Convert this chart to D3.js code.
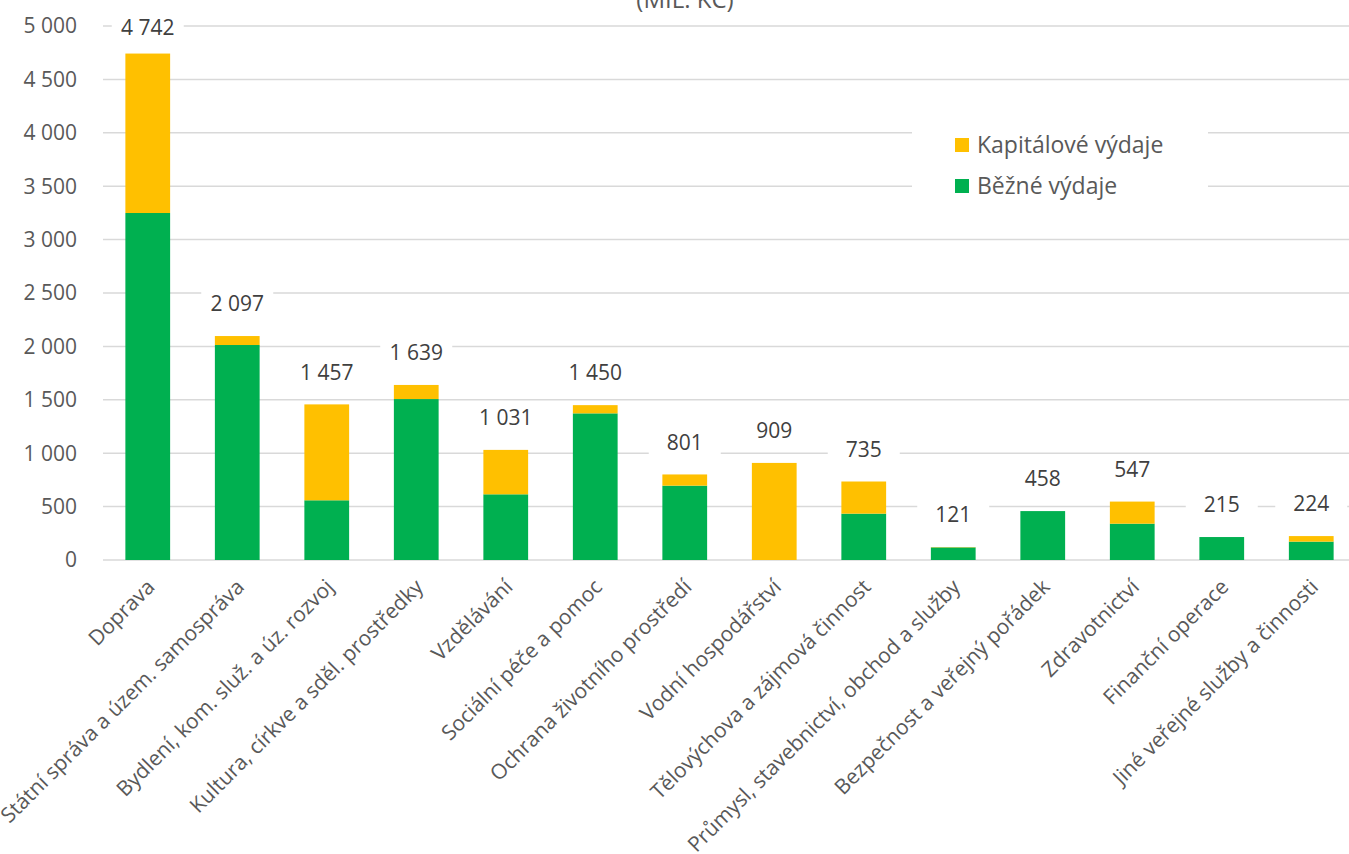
<!DOCTYPE html>
<html>
<head>
<meta charset="utf-8">
<script src="https://cdn.jsdelivr.net/npm/d3@7"></script>
<style>
  html, body { margin: 0; padding: 0; background: #fff; }
  svg { display: block; font-family: "Open Sans", "Noto Sans", sans-serif; }
</style>
</head>
<body>
<svg id="chart" width="1349" height="854"></svg>
<script>
// Výdaje podle odvětví (mil. Kč)
const categories = [
  "Doprava",
  "Státní správa a územ. samospráva",
  "Bydlení, kom. služ. a úz. rozvoj",
  "Kultura, církve a sděl. prostředky",
  "Vzdělávání",
  "Sociální péče a pomoc",
  "Ochrana životního prostředí",
  "Vodní hospodářství",
  "Tělovýchova a zájmová činnost",
  "Průmysl, stavebnictví, obchod a služby",
  "Bezpečnost a veřejný pořádek",
  "Zdravotnictví",
  "Finanční operace",
  "Jiné veřejné služby a činnosti"
];
const bezne      = [3249, 2013, 559, 1507, 615, 1373, 696, 0, 434, 118, 458, 340, 215, 172];
const kapitalove = [1493, 84, 898, 132, 416, 77, 105, 909, 301, 3, 0, 207, 0, 52];
const totals     = [4742, 2097, 1457, 1639, 1031, 1450, 801, 909, 735, 121, 458, 547, 215, 224];
const yTicks = [0, 500, 1000, 1500, 2000, 2500, 3000, 3500, 4000, 4500, 5000];
const seriesNames = ["Kapitálové výdaje", "Běžné výdaje"];

const COL_GREEN = "#00B050", COL_YELLOW = "#FFC000";
const INK = "#404040", MUTED = "#595959", GRID = "#d9d9d9";

const svg = d3.select("#chart");
const margin = { left: 103, right: -7, top: 26, bottom: 294 };
const W = 1349, H = 854;
const innerW = W - margin.left - margin.right;
const innerH = H - margin.top - margin.bottom;

// Czech style: space as thousands separator
const fmt = v => d3.format(",")(v).replace(/,/g, " ");

const x = d3.scaleBand().domain(categories).range([0, innerW]).paddingInner(0.5).paddingOuter(0.25);
const y = d3.scaleLinear().domain([0, 5000]).range([innerH, 0]);

// title remnant, cut by the top edge just like in the source picture
svg.append("text").attr("x", 685).attr("y", 8)
  .attr("text-anchor", "middle").attr("fill", MUTED).attr("font-size", 24)
  .text("(MIL. KČ)");

const root = svg.append("g").attr("transform", `translate(${margin.left},${margin.top})`);

// gridlines
root.append("g").selectAll("line").data(yTicks).enter().append("line")
  .attr("x1", 0).attr("x2", innerW + 20)
  .attr("y1", d => y(d)).attr("y2", d => y(d))
  .attr("stroke", GRID).attr("stroke-width", 1.5);

// y tick labels
root.append("g").selectAll("text").data(yTicks).enter().append("text")
  .attr("x", -26).attr("y", d => y(d)).attr("dy", "0.35em")
  .attr("text-anchor", "end").attr("fill", MUTED).attr("font-size", 21)
  .text(d => fmt(d));

// stacked bars
const rows = categories.map((c, i) => ({ c, b: bezne[i], k: kapitalove[i], t: totals[i] }));
const bars = root.append("g");
bars.selectAll(".g").data(rows).enter().append("rect")
  .attr("x", d => x(d.c)).attr("width", x.bandwidth())
  .attr("y", d => y(d.b)).attr("height", d => y(0) - y(d.b))
  .attr("fill", COL_GREEN);
bars.selectAll(".k").data(rows).enter().append("rect")
  .attr("x", d => x(d.c)).attr("width", x.bandwidth())
  .attr("y", d => y(d.b + d.k)).attr("height", d => y(d.b) - y(d.b + d.k))
  .attr("fill", COL_YELLOW);

// total labels with white backing (hides gridlines behind them)
const lab = root.append("g").selectAll("g").data(rows).enter().append("g")
  .attr("transform", d => `translate(${x(d.c) + x.bandwidth() / 2},${Math.max(2, y(d.b + d.k) - 32)})`);
lab.append("rect").attr("x", -36).attr("y", -15).attr("width", 72).attr("height", 30).attr("fill", "#fff");
lab.append("text").attr("text-anchor", "middle").attr("dy", "0.35em")
  .attr("fill", INK).attr("font-size", 21).text(d => fmt(d.t));

// category labels, rotated
root.append("g").selectAll("text").data(categories).enter().append("text")
  .attr("transform", d => `translate(${x(d) + x.bandwidth() / 2 + 3},${innerH + 23}) rotate(-45)`)
  .attr("text-anchor", "end").attr("dy", "0.35em")
  .attr("fill", MUTED).attr("font-size", 21).text(d => d);

// legend
const leg = svg.append("g").attr("transform", "translate(912,110)");
leg.append("rect").attr("width", 296).attr("height", 100).attr("fill", "#fff");
const legCols = [COL_YELLOW, COL_GREEN];
seriesNames.forEach((n, i) => {
  const gy = 35 + i * 41;
  leg.append("rect").attr("x", 43).attr("y", gy - 7).attr("width", 14).attr("height", 14).attr("fill", legCols[i]);
  leg.append("text").attr("x", 65).attr("y", gy).attr("dy", "0.35em")
    .attr("fill", MUTED).attr("font-size", 23).text(n);
});
</script>
</body>
</html>
